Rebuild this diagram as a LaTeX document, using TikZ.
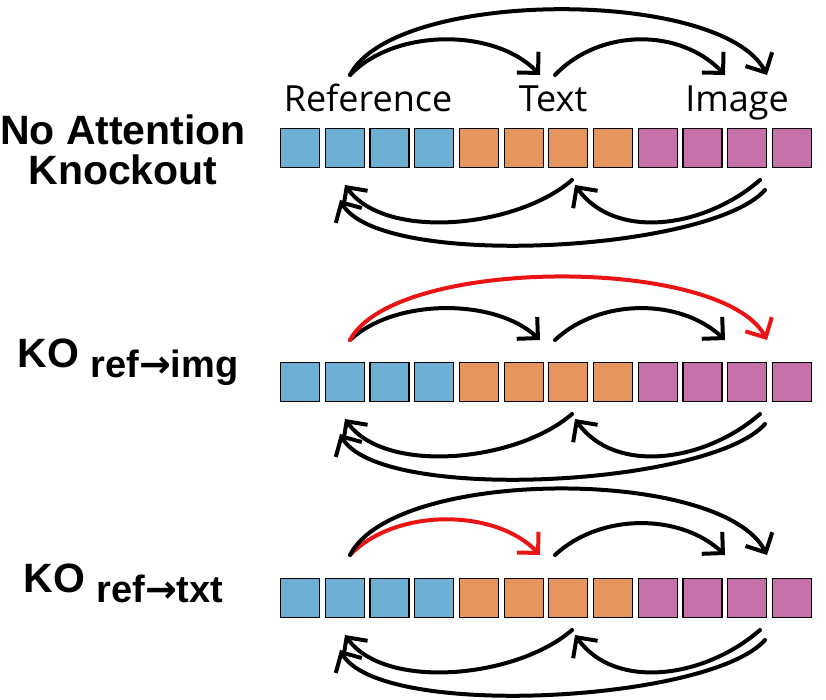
\documentclass[tikz,border=0pt]{standalone}
\usepackage{fontspec}
\setmainfont{Open Sans}
\newfontfamily\boldsans{Liberation Sans}
\newfontfamily\symfont{DejaVu Sans}
\usetikzlibrary{arrows.meta}
\definecolor{refblue}{RGB}{110,176,212}
\definecolor{txtorange}{RGB}{228,150,92}
\definecolor{imgpink}{RGB}{198,112,170}
\definecolor{koRed}{RGB}{235,20,20}
\tikzset{
  token/.style={draw=black, line width=1.2pt, minimum size=39pt, inner sep=0pt, anchor=north west},
  attn/.style={-{Straight Barb[length=15pt,width=30pt]}, line width=4pt, line cap=round},
  knock/.style={attn, draw=koRed},
  lbl/.style={font=\fontsize{36}{40}\selectfont, anchor=base},
  rowlbl/.style={font=\boldsans\bfseries\fontsize{41}{46}\selectfont, align=center},
}
% arc over the row: start, end, height
\newcommand{\overarc}[4][attn]{\draw[#1] (#2) .. controls +(45,-#4) and +(-45,-#4) .. (#3);}
\newcommand{\underarc}[3]{\draw[attn] (#1) .. controls +(-55,#3) and +(40,#3+8) .. (#2);}
\newcommand{\subtag}[1]{\raisebox{-0.45ex}{\fontsize{38}{42}\selectfont #1}}
\begin{document}
\begin{tikzpicture}[x=1pt,y=-1pt]
\useasboundingbox (0,0) rectangle (826,700);

% token rows
\foreach \r/\y in {1/128,2/362,3/578}{
  \foreach \i in {0,...,11}{
    \ifnum\i<4 \def\c{refblue}\else\ifnum\i<8 \def\c{txtorange}\else\def\c{imgpink}\fi\fi
    \node[token, fill=\c] (r\r s\i) at (280+\i*44.7,\y) {};
  }
}

% row labels
\node[rowlbl] (nolbl) at (123,150) {No Attention\\[-6pt]Knockout};
\node[rowlbl, anchor=west] (kolbl2) at (14,362) {KO \subtag{ref{\symfont\bfseries →}img}};
\node[rowlbl, anchor=west] (kolbl3) at (20,583) {KO \subtag{ref{\symfont\bfseries →}txt}};

% modality labels
\node[lbl] (refname) at (368,112) {Reference};
\node[lbl] (txtname) at (553,112) {Text};
\node[lbl] (imgname) at (737,112) {Image};

\foreach \r/\y/\t in {1/128/53,2/362/22,3/578/23}{
  \coordinate (a\r) at (350,\y-\t);
  \coordinate (b\r) at (540,\y-\t);
  \coordinate (c\r) at (555,\y-\t);
  \coordinate (d\r) at (725,\y-\t);
  \coordinate (e\r) at (767,\y-\t);
  % backward arcs under the row
  \coordinate (p\r) at (572,\y+52);
  \coordinate (q\r) at (345,\y+57);
  \coordinate (u\r) at (760,\y+52);
  \coordinate (v\r) at (575,\y+57);
  \coordinate (w\r) at (765,\y+62);
  \coordinate (z\r) at (340,\y+72);
  \underarc{p\r}{q\r}{48}
  \underarc{u\r}{v\r}{48}
  \underarc{w\r}{z\r}{62}
}

% forward arcs over the rows
\overarc{a1}{b1}{47}
\overarc{c1}{d1}{47}
\overarc[attn]{a1}{e1}{87}
\overarc{a2}{b2}{42}
\overarc{c2}{d2}{42}
\overarc[knock]{a2}{e2}{84}
\overarc[knock]{a3}{b3}{47}
\overarc{c3}{d3}{42}
\overarc{a3}{e3}{88}
\end{tikzpicture}
\end{document}
